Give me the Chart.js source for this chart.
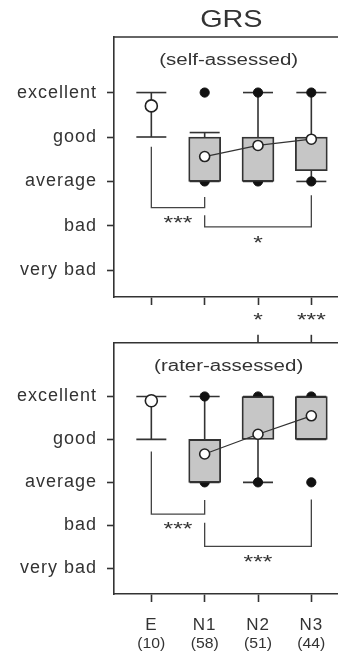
<!DOCTYPE html>
<html>
<head>
<meta charset="utf-8">
<script src="https://cdn.jsdelivr.net/npm/chart.js@4.4.0/dist/chart.umd.min.js"></script>
<style>
  html, body { margin: 0; padding: 0; background: #fff; overflow: hidden; }
  canvas { display: block; }
</style>
</head>
<body>
<canvas id="self" width="338" height="322"></canvas>
<canvas id="rater" width="338" height="335"></canvas>
<script>
// groups on the x axis
const groups = ['E', 'N1', 'N2', 'N3'];
const groupN = ['(10)', '(58)', '(51)', '(44)'];
const groupX = [0, 1, 2, 3];

// rating scale on the y axis
const grades = ['very bad', 'bad', 'average', 'good', 'excellent'];
const gradeVals = [1, 2, 3, 4, 5];

// self-assessed panel
const selfBoxLow = [null, 3, 3, 3.24];
const selfBoxHigh = [null, 4, 4, 4];
const selfWhiskLow = [4, 3, 3, 3];
const selfWhiskHigh = [5, 4.1, 5, 5];
const selfDots = [[], [3, 5], [3, 5], [3, 5]];
const selfMean = [4.7, 3.56, 3.81, 3.95];
const selfBrackets = [
  { from: 0, to: 1, fromY: 3.78, toY: 2.65, level: 2.41, stars: '***', starsY: 2.17 },
  { from: 1, to: 3, fromY: 2.24, toY: 2.69, level: 1.98, stars: '*', starsY: 1.72 }
];

// rater-assessed panel
const raterBoxLow = [null, 3, 4, 4];
const raterBoxHigh = [null, 4, 5, 5];
const raterWhiskLow = [4, 3, 3, 4];
const raterWhiskHigh = [5, 5, 5, 5];
const raterDots = [[], [3, 5], [3, 5], [3, 5]];
const raterMean = [4.9, 3.66, 4.12, 4.55];
const raterBrackets = [
  { from: 0, to: 1, fromY: 3.72, toY: 2.59, level: 2.26, stars: '***', starsY: 2.02 },
  { from: 1, to: 3, fromY: 2.06, toY: 2.60, level: 1.51, stars: '***', starsY: 1.27 }
];

// self vs rater, per group
const crossStars = ['', '', '*', '***'];

const FONT = "'Liberation Sans', Arial, sans-serif";
const INK = '#333';

// text in the original is drawn wide, so stretch it a bit
function wideText(ctx, text, x, y, size, sx, baseline) {
  ctx.save();
  ctx.font = size + 'px ' + FONT;
  ctx.fillStyle = INK;
  ctx.textAlign = 'center';
  ctx.textBaseline = baseline || 'middle';
  ctx.translate(x, y);
  ctx.scale(sx, 1);
  ctx.fillText(text, 0, 0);
  ctx.restore();
}

function starText(ctx, text, x, y) {
  // asterisks sit high in the font, push baseline down so they centre on y
  wideText(ctx, text, x, y + 11, 19, 1.3, 'alphabetic');
}

const panelText = {
  id: 'panelText',
  beforeDraw(chart) { chart.ctx.letterSpacing = '1px'; },
  beforeDatasetsDraw(chart) { chart.ctx.letterSpacing = '0px'; },
  afterDraw(chart, args, o) {
    const ctx = chart.ctx;
    const a = chart.chartArea;
    const x = chart.scales.x, y = chart.scales.y;
    ctx.save();
    ctx.letterSpacing = '0px';
    // top frame line
    ctx.strokeStyle = INK;
    ctx.lineWidth = 1.6;
    ctx.beginPath();
    ctx.moveTo(a.left, a.top);
    ctx.lineTo(a.right, a.top);
    ctx.stroke();

    if (o.title) {
      wideText(ctx, o.title, x.getPixelForValue(1.5), 27, 24, 1.2, 'alphabetic');
    }
    wideText(ctx, o.subtitle, x.getPixelForValue(1.45), a.top + 24, 16, 1.28);

    o.brackets.forEach(b => {
      starText(ctx, b.stars, x.getPixelForValue((b.from + b.to) / 2), y.getPixelForValue(b.starsY));
    });

    if (o.crossBelow) {
      groupX.forEach((v, i) => {
        if (crossStars[i]) starText(ctx, crossStars[i], x.getPixelForValue(v), a.bottom + 18);
      });
    }
    if (o.crossAbove) {
      ctx.strokeStyle = INK;
      ctx.lineWidth = 1.6;
      groupX.forEach((v, i) => {
        if (!crossStars[i]) return;
        const px = x.getPixelForValue(v);
        ctx.beginPath();
        ctx.moveTo(px, a.top - 8);
        ctx.lineTo(px, a.top);
        ctx.stroke();
      });
    }
    if (o.counts) {
      groupX.forEach((v, i) => {
        wideText(ctx, groupN[i], x.getPixelForValue(v), a.bottom + 50, 15, 1.05);
      });
    }
    ctx.restore();
  }
};

function makePanel(id, p) {
  const whiskers = [];
  const caps = [];
  groupX.forEach((v, i) => {
    if (p.whiskLow[i] == null) return;
    whiskers.push({ x: v, y: p.whiskLow[i] }, { x: v, y: p.whiskHigh[i] }, { x: v, y: null });
    caps.push({ x: v, y: p.whiskLow[i] }, { x: v, y: p.whiskHigh[i] });
  });
  const dots = groupX.flatMap((v, i) => p.dots[i].map(d => ({ x: v, y: d })));
  const boxes = groupX.map((v, i) => p.boxLow[i] == null ? null : { x: v, y: [p.boxLow[i], p.boxHigh[i]] })
    .filter(Boolean);
  const meanLine = groupX.slice(1).map((v, i) => ({ x: v, y: p.mean[i + 1] }));

  const datasets = [
    { type: 'line', data: whiskers, borderColor: INK, borderWidth: 1.6, pointRadius: 0, spanGaps: false, order: 6 },
    { type: 'scatter', data: caps, pointStyle: 'line', pointRadius: 15, borderColor: INK, borderWidth: 1.6, order: 6 },
    { type: 'scatter', data: dots, pointRadius: 4.6, backgroundColor: '#111', borderColor: '#111', order: 5 },
    { type: 'bar', data: boxes, backgroundColor: '#c6c6c6', borderColor: INK, borderWidth: 1.8,
      borderSkipped: false, barThickness: 32, grouped: false, order: 4 }
  ];
  p.brackets.forEach(b => {
    datasets.push({
      type: 'line',
      data: [{ x: b.from, y: b.fromY }, { x: b.from, y: b.level }, { x: b.to, y: b.level }, { x: b.to, y: b.toY }],
      borderColor: '#444', borderWidth: 1.3, pointRadius: 0, order: 3
    });
  });
  datasets.push(
    { type: 'line', data: meanLine, borderColor: INK, borderWidth: 1.3, pointRadius: 5,
      pointBackgroundColor: '#fff', pointBorderColor: '#222', pointBorderWidth: 1.6, order: 1 },
    { type: 'scatter', data: [{ x: 0, y: p.mean[0] }], pointRadius: 6,
      backgroundColor: '#fff', borderColor: '#222', borderWidth: 1.6, order: 1 }
  );

  return new Chart(document.getElementById(id), {
    type: 'bar',
    data: { datasets },
    plugins: [panelText],
    options: {
      responsive: false,
      animation: false,
      layout: { autoPadding: false, padding: { left: 0, right: 0, top: p.top, bottom: 0 } },
      plugins: {
        legend: { display: false },
        tooltip: { enabled: false },
        panelText: p.text
      },
      scales: {
        x: {
          type: 'linear',
          min: -0.7,
          max: 3.5,
          offset: false,
          afterBuildTicks: s => { s.ticks = groupX.map(v => ({ value: v })); },
          afterFit: s => { s.height = p.xHeight; },
          ticks: {
            autoSkip: false,
            display: p.showX,
            padding: 13,
            color: INK,
            font: { family: FONT, size: 17 },
            callback: v => groups[groupX.indexOf(v)]
          },
          grid: { offset: false, drawOnChartArea: false, drawTicks: true, tickLength: 8, tickColor: INK, tickWidth: 1.6 },
          border: { display: true, color: INK, width: 1.6 }
        },
        y: {
          min: 0.4,
          max: 6.25,
          afterBuildTicks: s => { s.ticks = gradeVals.map(v => ({ value: v })); },
          afterFit: s => { s.width = 114; },
          ticks: {
            padding: 10,
            color: INK,
            font: { family: FONT, size: 18 },
            callback: v => grades[gradeVals.indexOf(v)]
          },
          grid: { drawOnChartArea: false, drawTicks: true, tickLength: 7, tickColor: INK, tickWidth: 1.6 },
          border: { display: true, color: INK, width: 1.6 }
        }
      }
    }
  });
}

makePanel('self', {
  boxLow: selfBoxLow, boxHigh: selfBoxHigh, whiskLow: selfWhiskLow, whiskHigh: selfWhiskHigh,
  dots: selfDots, mean: selfMean, brackets: selfBrackets,
  top: 37, xHeight: 25, showX: false,
  text: { title: 'GRS', subtitle: '(self-assessed)', brackets: selfBrackets, crossBelow: true }
});

makePanel('rater', {
  boxLow: raterBoxLow, boxHigh: raterBoxHigh, whiskLow: raterWhiskLow, whiskHigh: raterWhiskHigh,
  dots: raterDots, mean: raterMean, brackets: raterBrackets,
  top: 13, xHeight: 63, showX: true,
  text: { subtitle: '(rater-assessed)', brackets: raterBrackets, crossAbove: true, counts: true }
});
</script>
</body>
</html>
